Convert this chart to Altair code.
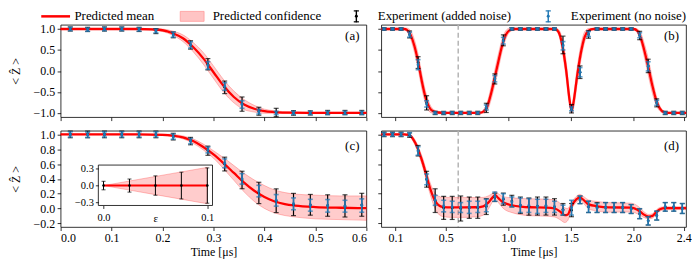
import altair as alt
import pandas as pd

FONT = "Liberation Serif"
RED = "#ff0000"
BLUE = "#1f77b4"
PINK = "#ffc4c4"

# ---------------- legend texts / colours ----------------
LEG_LABELS = ["Predicted mean", "Predicted confidence", "Experiment (added noise)", "Experiment (no noise)"]
LEG_COLORS = [RED, PINK, "#000000", BLUE]

# ---------------- time grids of the measurements ----------------
T_LEFT = [0.019, 0.053, 0.086, 0.120, 0.154, 0.187, 0.221, 0.255, 0.289, 0.322,
          0.356, 0.389, 0.423, 0.457, 0.490, 0.524, 0.558, 0.591]
T_RIGHT = [0.008, 0.076, 0.144, 0.212, 0.280, 0.348, 0.416, 0.484, 0.552, 0.620,
           0.688, 0.756, 0.824, 0.892, 0.960, 1.028, 1.096, 1.164, 1.232, 1.300,
           1.368, 1.436, 1.504, 1.572, 1.640, 1.708, 1.776, 1.844, 1.912, 1.980,
           2.048, 2.116, 2.184, 2.252, 2.320, 2.388]

# ---------------- panel (a) ----------------
A_BLACK = [1.0, 0.99, 1.0, 1.0, 0.99, 0.95, 0.86, 0.62, 0.16, -0.39, -0.79, -0.96, -0.99, -1.0, -1.0, -0.99, -0.99, -0.99]
A_BLACK_ERR = [0.05, 0.05, 0.05, 0.05, 0.05, 0.06, 0.07, 0.10, 0.135, 0.15, 0.17, 0.095, 0.10, 0.055, 0.05, 0.05, 0.05, 0.05]
A_BLUE = [1.0, 0.985, 1.0, 1.0, 0.99, 0.955, 0.865, 0.62, 0.13, -0.37, -0.80, -0.97, -1.0, -1.0, -1.0, -1.0, -1.0, -1.0]
A_BLUE_ERR = [0.04, 0.04, 0.04, 0.04, 0.04, 0.045, 0.06, 0.075, 0.09, 0.09, 0.09, 0.055, 0.04, 0.04, 0.04, 0.04, 0.04, 0.04]
A_CURVE_T = [0.0, 0.10, 0.15, 0.18, 0.20, 0.22, 0.24, 0.26, 0.28, 0.30, 0.32, 0.34, 0.36, 0.38, 0.40, 0.42, 0.45, 0.50, 0.60]
A_CURVE = [1.0, 1.0, 1.0, 0.99, 0.97, 0.90, 0.78, 0.57, 0.30, -0.03, -0.36, -0.62, -0.80, -0.90, -0.96, -0.98, -0.995, -1.0, -1.0]
A_BAND = [0.01, 0.01, 0.015, 0.02, 0.03, 0.05, 0.08, 0.11, 0.14, 0.15, 0.15, 0.14, 0.12, 0.08, 0.05, 0.03, 0.02, 0.015, 0.015]

# ---------------- panel (b) ----------------
B_BLACK = [1.0, 1.0, 1.0, 0.87, 0.20, -0.76, -1.0, -1.0, -1.0, -1.0, -1.0, -1.0, -0.88, -0.19, 0.73,
           1.0, 1.0, 1.0, 1.0, 1.0, 1.0, 0.62, -0.90, -0.03, 0.87, 1.0, 1.0, 1.0, 1.0, 1.0,
           0.845, 0.12, -0.76, -1.0, -1.0, -1.0]
B_BLACK_ERR = [0.03, 0.03, 0.03, 0.083, 0.14, 0.17, 0.04, 0.04, 0.04, 0.04, 0.04, 0.04, 0.11, 0.12, 0.13,
               0.03, 0.03, 0.03, 0.03, 0.03, 0.03, 0.21, 0.10, 0.15, 0.09, 0.03, 0.03, 0.03, 0.03, 0.03,
               0.10, 0.16, 0.095, 0.04, 0.04, 0.04]
B_BLUE = [1.0, 1.0, 1.0, 0.865, 0.15, -0.785, -1.0, -1.0, -1.0, -1.0, -1.0, -1.0, -0.87, -0.185, 0.72,
          1.0, 1.0, 1.0, 1.0, 1.0, 1.0, 0.60, -0.90, -0.03, 0.88, 1.0, 1.0, 1.0, 1.0, 1.0,
          0.85, 0.11, -0.76, -1.0, -1.0, -1.0]
B_BLUE_ERR = [0.025, 0.025, 0.025, 0.06, 0.12, 0.075, 0.025, 0.025, 0.025, 0.025, 0.025, 0.025, 0.06, 0.075, 0.08,
              0.025, 0.025, 0.025, 0.025, 0.025, 0.025, 0.10, 0.05, 0.11, 0.06, 0.025, 0.025, 0.025, 0.025, 0.025,
              0.06, 0.11, 0.06, 0.025, 0.025, 0.025]
B_CURVE_T = [-0.014, 0.17, 0.19, 0.22, 0.25, 0.28, 0.31, 0.34, 0.37, 0.40, 0.44, 0.50, 0.77, 0.80, 0.83,
             0.86, 0.89, 0.92, 0.95, 0.98, 1.01, 1.05, 1.37, 1.40, 1.43, 1.46, 1.49, 1.505, 1.52, 1.55,
             1.58, 1.61, 1.64, 1.68, 2.00, 2.03, 2.06, 2.09, 2.12, 2.15, 2.18, 2.21, 2.24, 2.28, 2.418]
B_CURVE = [1.0, 1.0, 0.98, 0.86, 0.60, 0.22, -0.25, -0.64, -0.87, -0.96, -0.99, -1.0, -1.0, -0.97, -0.86,
           -0.56, -0.18, 0.22, 0.60, 0.86, 0.97, 1.0, 1.0, 0.93, 0.62, 0.05, -0.72, -0.95, -0.75, -0.10,
           0.45, 0.82, 0.96, 1.0, 1.0, 0.95, 0.76, 0.43, 0.05, -0.36, -0.70, -0.90, -0.98, -1.0, -1.0]
B_BAND = [0.02, 0.02, 0.04, 0.10, 0.15, 0.18, 0.18, 0.15, 0.10, 0.05, 0.03, 0.02, 0.02, 0.04, 0.10,
          0.15, 0.18, 0.18, 0.15, 0.10, 0.05, 0.02, 0.02, 0.06, 0.15, 0.20, 0.15, 0.06, 0.15, 0.20,
          0.18, 0.12, 0.05, 0.02, 0.02, 0.05, 0.12, 0.17, 0.20, 0.18, 0.12, 0.06, 0.03, 0.02, 0.02]

# ---------------- panel (c) ----------------
C_BLACK = [1.0, 1.0, 1.0, 1.0, 1.0, 1.0, 0.97, 0.91, 0.78, 0.60, 0.385, 0.21, 0.105, 0.054, 0.05, 0.04, 0.035, 0.05]
C_BLACK_ERR = [0.045, 0.045, 0.045, 0.045, 0.045, 0.045, 0.045, 0.05, 0.062, 0.093, 0.118, 0.144, 0.16, 0.15, 0.14, 0.145, 0.15, 0.155]
C_BLUE = [1.0, 0.995, 1.0, 1.0, 1.0, 1.0, 0.97, 0.91, 0.79, 0.61, 0.40, 0.235, 0.11, 0.063, 0.044, 0.036, 0.031, 0.04]
C_BLUE_ERR = [0.035, 0.035, 0.035, 0.035, 0.035, 0.035, 0.035, 0.035, 0.04, 0.06, 0.071, 0.078, 0.078, 0.08, 0.08, 0.085, 0.08, 0.09]
C_CURVE_T = [0.0, 0.15, 0.20, 0.22, 0.24, 0.26, 0.28, 0.30, 0.32, 0.34, 0.36, 0.38, 0.40, 0.42, 0.44, 0.46, 0.50, 0.55, 0.60]
C_CURVE = [1.0, 1.0, 0.995, 0.985, 0.96, 0.91, 0.83, 0.73, 0.61, 0.48, 0.35, 0.24, 0.155, 0.095, 0.06, 0.04, 0.02, 0.01, 0.005]
C_BAND = [0.005, 0.005, 0.01, 0.015, 0.02, 0.03, 0.04, 0.05, 0.075, 0.10, 0.125, 0.145, 0.155, 0.155, 0.155, 0.155, 0.16, 0.16, 0.165]

# inset of panel (c)
INSET_EPS = [0.0, 0.025, 0.05, 0.075, 0.1]
INSET_VAL = [0.0, 0.0, 0.0, 0.0, 0.0]
INSET_ERR = [0.075, 0.115, 0.17, 0.235, 0.31]
INSET_BAND = [0.0, 0.08, 0.16, 0.24, 0.32]
INSET_XLIM = [-0.005, 0.105]
INSET_YLIM = [-0.35, 0.36]

# ---------------- panel (d) ----------------
D_BLACK = [1.0, 1.0, 1.0, 0.99, 0.78, 0.395, 0.106, 0.008, 0.008, 0.0, 0.011, 0.011, 0.026, 0.15, 0.126,
           0.10, 0.044, 0.026, 0.033, 0.033, 0.022, -0.011, -0.022, 0.117, 0.022, 0.013, 0.013, 0.013, 0.013, -0.007,
           -0.07, -0.167, -0.096, 0.022, 0.022, 0.0]
D_BLACK_ERR = [0.03, 0.03, 0.03, 0.03, 0.071, 0.107, 0.16, 0.156, 0.156, 0.169, 0.144, 0.144, 0.107, 0.056, 0.082,
               0.078, 0.111, 0.116, 0.122, 0.122, 0.111, 0.078, 0.089, 0.051, 0.076, 0.067, 0.067, 0.067, 0.067, 0.06,
               0.067, 0.056, 0.06, 0.058, 0.058, 0.067]
D_BLUE = [1.0, 1.0, 1.0, 1.0, 0.777, 0.393, 0.11, 0.033, 0.022, 0.013, 0.016, 0.022, 0.04, 0.16, 0.133,
          0.089, 0.044, 0.04, 0.029, 0.036, 0.022, -0.022, 0.011, 0.117, 0.022, 0.007, 0.013, 0.013, 0.013, -0.007,
          -0.07, -0.167, -0.096, 0.022, 0.022, 0.0]
D_BLUE_ERR = [0.025, 0.025, 0.025, 0.025, 0.058, 0.073, 0.067, 0.078, 0.076, 0.067, 0.082, 0.076, 0.084, 0.062, 0.067,
              0.067, 0.098, 0.093, 0.096, 0.089, 0.076, 0.067, 0.1, 0.051, 0.076, 0.06, 0.067, 0.067, 0.067, 0.06,
              0.067, 0.056, 0.06, 0.058, 0.058, 0.067]
D_CURVE_T = [-0.014, 0.17, 0.20, 0.22, 0.24, 0.27, 0.29, 0.32, 0.35, 0.38, 0.41, 0.44, 0.48, 0.55, 0.65,
             0.74, 0.80, 0.84, 0.87, 0.895, 0.92, 0.96, 1.03, 1.10, 1.17, 1.30, 1.37, 1.42, 1.45, 1.475,
             1.50, 1.54, 1.57, 1.61, 1.64, 1.71, 1.80, 1.98, 2.05, 2.08, 2.12, 2.15, 2.18, 2.21, 2.25,
             2.33, 2.418]
D_CURVE = [1.0, 1.0, 0.995, 0.98, 0.935, 0.84, 0.75, 0.60, 0.42, 0.25, 0.12, 0.05, 0.02, 0.015, 0.015,
           0.017, 0.03, 0.08, 0.14, 0.18, 0.14, 0.08, 0.044, 0.026, 0.017, 0.012, 0.0, -0.05, -0.09, -0.08,
           0.02, 0.12, 0.15, 0.10, 0.055, 0.03, 0.015, 0.012, -0.04, -0.08, -0.11, -0.10, -0.05, -0.01, 0.004,
           0.005, 0.005]
D_BAND = [0.01, 0.01, 0.015, 0.02, 0.03, 0.04, 0.05, 0.06, 0.07, 0.08, 0.10, 0.12, 0.13, 0.135, 0.135,
          0.13, 0.12, 0.09, 0.06, 0.05, 0.06, 0.08, 0.10, 0.11, 0.115, 0.115, 0.115, 0.11, 0.10, 0.08,
          0.05, 0.04, 0.04, 0.05, 0.06, 0.065, 0.065, 0.06, 0.05, 0.04, 0.03, 0.03, 0.03, 0.025, 0.02,
          0.02, 0.02]

VLINE_T = [0.6]

# ---------------- axes / scales ----------------
XL_DOM = [0.0, 0.6]
XR_DOM = [-0.014, 2.418]
YTOP_DOM = [-1.1, 1.1]
YBOT_DOM = [-0.25, 1.05]
XL_TICKS = [0.0, 0.1, 0.2, 0.3, 0.4, 0.5, 0.6]
XR_TICKS = [0.1, 0.5, 1.0, 1.5, 2.0, 2.4]
YTOP_TICKS = [-1.0, -0.5, 0.0, 0.5, 1.0]
YBOT_TICKS = [-0.2, 0.0, 0.2, 0.4, 0.6, 0.8, 1.0]

WL, WR = 308, 307
H_TOP, H_BOT = 93, 97
COL_GAP, ROW_GAP = 15, 13.7
LEG_Y = -8.5          # legend row centre, relative to the top of the upper panels
LEG_DX = -(WL + COL_GAP)  # legend drawn in panel (b) coordinates; offsets below are from panel (a)'s left edge


def xaxis(values, show):
    if show:
        return alt.Axis(values=values, format=".1f", title="Time [μs]", domain=False,
                        labelPadding=2, titlePadding=3)
    return alt.Axis(values=values, format=".1f", title=None, labels=False, domain=False)


def yaxis(values, show):
    if show:
        return alt.Axis(values=values, format=".1f", title="< Ẑ >", domain=False,
                        labelPadding=2.5, titlePadding=11)
    return alt.Axis(values=values, format=".1f", title=None, labels=False, domain=False)


def errbar_layers(df, vcol, ecol, color, lw, cap, dot, X, Y):
    base = alt.Chart(df).transform_calculate(
        lo=f"datum.{vcol} - datum.{ecol}", hi=f"datum.{vcol} + datum.{ecol}")
    rule = base.mark_rule(color=color, strokeWidth=lw).encode(x=X("t"), y=Y("lo"), y2="hi:Q")
    cap_lo = base.mark_tick(color=color, orient="horizontal", size=cap, thickness=lw).encode(x=X("t"), y=Y("lo"))
    cap_hi = base.mark_tick(color=color, orient="horizontal", size=cap, thickness=lw).encode(x=X("t"), y=Y("hi"))
    pt = base.mark_point(filled=True, color=color, size=dot, opacity=1).encode(x=X("t"), y=Y(vcol))
    return [rule, cap_lo, cap_hi, pt]


# ---------------- legend pieces (drawn above the upper panels) ----------------
leg_df = pd.DataFrame({"label": LEG_LABELS, "color": LEG_COLORS})


def leg_item(i):
    return alt.Chart(leg_df).transform_filter(f"datum.label == '{LEG_LABELS[i]}'")


def leg_text(i, x):
    return leg_item(i).mark_text(align="left", baseline="middle", font=FONT, fontSize=13,
                                 color="black").encode(x=alt.value(x + LEG_DX), y=alt.value(LEG_Y), text="label:N")


def leg_errbar(i, cx):
    col = LEG_COLORS[i]
    cx = cx + LEG_DX
    return [
        leg_item(i).mark_rule(color=col, strokeWidth=1.4).encode(
            x=alt.value(cx), y=alt.value(LEG_Y - 6), y2=alt.value(LEG_Y + 6)),
        leg_item(i).mark_rule(color=col, strokeWidth=1.2).encode(
            x=alt.value(cx - 2.6), x2=alt.value(cx + 2.6), y=alt.value(LEG_Y - 5.5)),
        leg_item(i).mark_rule(color=col, strokeWidth=1.2).encode(
            x=alt.value(cx - 2.6), x2=alt.value(cx + 2.6), y=alt.value(LEG_Y + 5.5)),
        leg_item(i).mark_point(filled=True, color=col, size=9, opacity=1).encode(
            x=alt.value(cx), y=alt.value(LEG_Y)),
    ]


legend_layers = [
    leg_item(0).mark_rule(color=LEG_COLORS[0], strokeWidth=2.5).encode(
        x=alt.value(-19.5 + LEG_DX), x2=alt.value(9.5 + LEG_DX), y=alt.value(LEG_Y)),
    leg_text(0, 13.9),
    leg_item(1).mark_rect(color=LEG_COLORS[1], stroke="#ff9a9a", strokeWidth=0.8).encode(
        x=alt.value(120.5 + LEG_DX), x2=alt.value(144.5 + LEG_DX), y=alt.value(LEG_Y - 5), y2=alt.value(LEG_Y + 5)),
    leg_text(1, 153.2),
    *leg_errbar(2, 297.9),
    leg_text(2, 319.5),
    *leg_errbar(3, 491.2),
    leg_text(3, 513.9),
]


def build_panel(tag, t, blk, blk_err, blu, blu_err, ct, cv, cb, xdom, ydom, xax, yax, w, tag_y,
                vline=False, extra=None):
    xs = alt.Scale(domain=xdom, nice=False, zero=False)
    ys = alt.Scale(domain=ydom, nice=False, zero=False)

    def X(f):
        return alt.X(f, type="quantitative", scale=xs, axis=xax)

    def Y(f):
        return alt.Y(f, type="quantitative", scale=ys, axis=yax)

    cdf = pd.DataFrame({"t": ct, "v": cv, "b": cb})
    pdf = pd.DataFrame({"t": t, "blk": blk, "blk_err": blk_err, "blu": blu, "blu_err": blu_err})

    layers = []
    if vline:
        layers.append(alt.Chart(pd.DataFrame({"t": VLINE_T})).mark_rule(
            color="#b5b5b5", strokeDash=[5, 3], strokeWidth=1.5).encode(x=X("t")))
    band = alt.Chart(cdf).transform_calculate(
        lo="datum.v - datum.b", hi="datum.v + datum.b").mark_area(
        interpolate="monotone", color=RED, fillOpacity=0.2, stroke=RED, strokeOpacity=0.3,
        strokeWidth=0.8).encode(x=X("t"), y=Y("lo"), y2="hi:Q")
    line = alt.Chart(cdf).mark_line(color=RED, strokeWidth=2.3, interpolate="monotone").encode(
        x=X("t"), y=Y("v"))
    layers += [band, line]
    layers += errbar_layers(pdf, "blk", "blk_err", "black", 1.2, 5, 7, X, Y)
    layers += errbar_layers(pdf, "blu", "blu_err", BLUE, 1.6, 5, 9, X, Y)
    layers.append(alt.Chart(pd.DataFrame({"tag": [tag]})).mark_text(
        align="right", baseline="middle", font=FONT, fontSize=13, color="black").encode(
        x=alt.value(w - 7), y=alt.value(tag_y), text="tag:N"))
    if extra is not None:
        layers += extra
    return alt.layer(*layers)


pa = build_panel("(a)", T_LEFT, A_BLACK, A_BLACK_ERR, A_BLUE, A_BLUE_ERR, A_CURVE_T, A_CURVE, A_BAND,
                 XL_DOM, YTOP_DOM, xaxis(XL_TICKS, False), yaxis(YTOP_TICKS, True), WL, 11
                 ).properties(width=WL, height=H_TOP)
pb = build_panel("(b)", T_RIGHT, B_BLACK, B_BLACK_ERR, B_BLUE, B_BLUE_ERR, B_CURVE_T, B_CURVE, B_BAND,
                 XR_DOM, YTOP_DOM, xaxis(XR_TICKS, False), yaxis(YTOP_TICKS, False), WR, 11,
                 vline=True, extra=legend_layers).properties(width=WR, height=H_TOP)
pc_main = build_panel("(c)", T_LEFT, C_BLACK, C_BLACK_ERR, C_BLUE, C_BLUE_ERR, C_CURVE_T, C_CURVE, C_BAND,
                      XL_DOM, YBOT_DOM, xaxis(XL_TICKS, True), yaxis(YBOT_TICKS, True), WL, 15)
pd_ = build_panel("(d)", T_RIGHT, D_BLACK, D_BLACK_ERR, D_BLUE, D_BLUE_ERR, D_CURVE_T, D_CURVE, D_BAND,
                  XR_DOM, YBOT_DOM, xaxis(XR_TICKS, True), yaxis(YBOT_TICKS, False), WR, 15,
                  vline=True).properties(width=WR, height=H_BOT)

# ---------------- inset ----------------
INSET_X_RANGE = [38, 153]
INSET_Y_RANGE = [75.3, 34.6]
ixs = alt.Scale(domain=INSET_XLIM, range=INSET_X_RANGE, nice=False, zero=False)
iys = alt.Scale(domain=INSET_YLIM, range=INSET_Y_RANGE, nice=False, zero=False)
ix_axis = alt.Axis(values=[0.0, 0.1], format=".1f", title="ε", orient="bottom",
                   offset=-(H_BOT - INSET_Y_RANGE[0]),
                   domain=False, labelFontSize=10.5, titleFontSize=11, titleY=13, titleBaseline="middle",
                   labelPadding=4, zindex=1, tickSize=3)
iy_axis = alt.Axis(values=[-0.3, 0.0, 0.3], format=".1f", title=None, orient="left",
                   offset=-INSET_X_RANGE[0],
                   domain=False, labelFontSize=10.5, labelPadding=2, zindex=1, tickSize=3)


def IX(f):
    return alt.X(f, type="quantitative", scale=ixs, axis=ix_axis)


def IY(f):
    return alt.Y(f, type="quantitative", scale=iys, axis=iy_axis)


idf = pd.DataFrame({"t": INSET_EPS, "v": INSET_VAL, "e": INSET_ERR, "b": INSET_BAND})
frame = alt.Chart(pd.DataFrame({"x0": [INSET_XLIM[0]], "x1": [INSET_XLIM[1]],
                                "y0": [INSET_YLIM[0]], "y1": [INSET_YLIM[1]]})).mark_rect(
    fill="white", stroke="black", strokeWidth=0.8).encode(x=IX("x0"), x2="x1:Q", y=IY("y0"), y2="y1:Q")
iband = alt.Chart(idf).transform_calculate(lo="datum.v - datum.b", hi="datum.v + datum.b").mark_area(
    color=RED, fillOpacity=0.2, stroke=RED, strokeOpacity=0.3, strokeWidth=0.8).encode(
    x=IX("t"), y=IY("lo"), y2="hi:Q")
iline = alt.Chart(idf).mark_line(color=RED, strokeWidth=2).encode(x=IX("t"), y=IY("v"))
inset = alt.layer(frame, iband, iline, *errbar_layers(idf, "v", "e", "black", 1.0, 4, 7, IX, IY))

pc = alt.layer(pc_main, inset).resolve_scale(x="independent", y="independent").properties(
    width=WL, height=H_BOT)

chart = alt.concat(pa, pb, pc, pd_, columns=2, bounds="flush",
                   spacing=alt.RowColnumber(row=ROW_GAP, column=COL_GAP)).properties(
    padding=0
).configure_view(
    stroke="black", strokeWidth=0.8
).configure_axis(
    grid=False, tickColor="black", tickWidth=0.8, tickSize=3.5,
    labelFont=FONT, labelFontSize=12, labelColor="black",
    titleFont=FONT, titleFontSize=12, titleFontWeight="normal", titleColor="black",
)

chart.save("out.html", embed_options={"renderer": "svg", "actions": False})
